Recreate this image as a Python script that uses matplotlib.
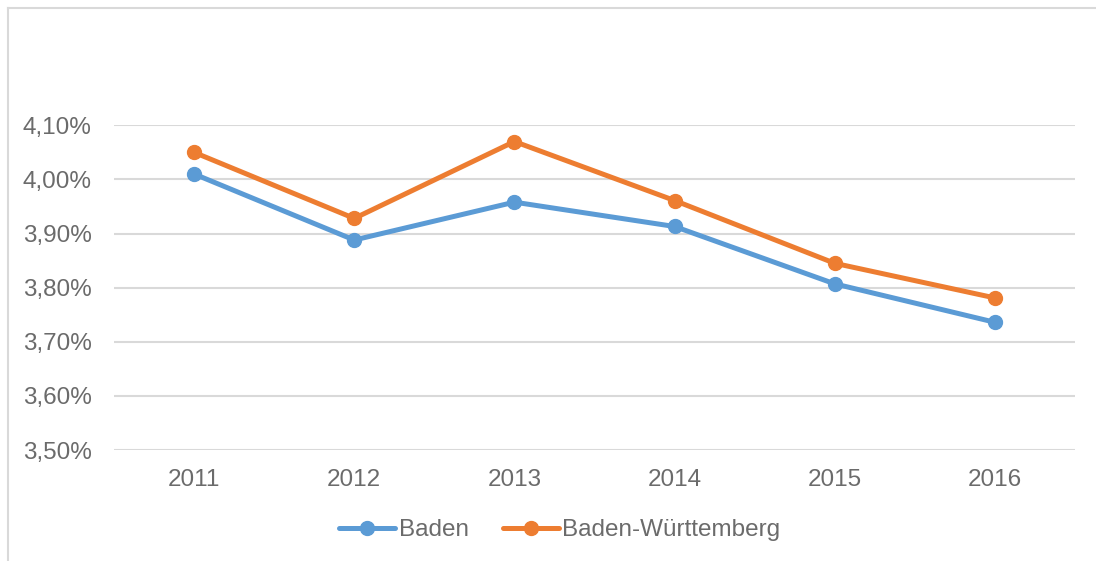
import matplotlib
matplotlib.use("Agg")
import matplotlib.pyplot as plt
from matplotlib.lines import Line2D
from matplotlib.ticker import FuncFormatter

# ---------------------------------------------------------------------------
# Data
# ---------------------------------------------------------------------------
years = ["2011", "2012", "2013", "2014", "2015", "2016"]
baden = [4.010, 3.888, 3.958, 3.913, 3.807, 3.736]
baden_wuerttemberg = [4.050, 3.928, 4.070, 3.961, 3.845, 3.781]
y_ticks = [3.5, 3.6, 3.7, 3.8, 3.9, 4.0, 4.1]

BLUE = "#5B9BD5"
ORANGE = "#ED7D31"
GRID = "#D9D9D9"
TEXT = "#6B6B6B"
FS = 17.5

plt.rcParams["font.family"] = ["Liberation Sans", "DejaVu Sans"]

W, H = 1096, 561
fig = plt.figure(figsize=(W / 100, H / 100), dpi=100, facecolor="white")

# axes placed in pixel coordinates of the reference
left, right, top, bottom = 114, 1075, 125.3, 450
ax = fig.add_axes([left / W, 1 - bottom / H, (right - left) / W, (bottom - top) / H])

x = list(range(len(years)))
ax.plot(x, baden, color=BLUE, lw=3.6, marker="o", ms=10, label="Baden",
        solid_capstyle="round", zorder=3)
ax.plot(x, baden_wuerttemberg, color=ORANGE, lw=3.6, marker="o", ms=10,
        label="Baden-Württemberg", solid_capstyle="round", zorder=3)

ax.set_xlim(-0.5, len(years) - 0.5)
ax.set_ylim(3.5, 4.1)
ax.set_yticks(y_ticks)
ax.yaxis.set_major_formatter(FuncFormatter(lambda v, _: f"{v:.2f}%".replace(".", ",")))
ax.set_xticks(x)
ax.set_xticklabels(years)

ax.grid(axis="y", color=GRID, lw=1.5, zorder=0)
ax.set_axisbelow(True)
for s in ax.spines.values():
    s.set_visible(False)
ax.tick_params(length=0, labelsize=FS, labelcolor=TEXT)
ax.tick_params(axis="y", pad=16)
ax.tick_params(axis="x", pad=14)
ax.patch.set_alpha(0)

# legend below the plot
fig.legend(loc="center", bbox_to_anchor=(560 / W, 1 - 530 / H), ncol=2,
           frameon=False, fontsize=FS, labelcolor=TEXT, handlelength=2.3,
           handletextpad=0.15, columnspacing=1.4)

# chart frame (only top and left edges fall inside the image)
fig.add_artist(Line2D([8 / W, 1], [1 - 8 / H, 1 - 8 / H], color=GRID, lw=1.5,
                      transform=fig.transFigure))
fig.add_artist(Line2D([8 / W, 8 / W], [0, 1 - 8 / H], color=GRID, lw=1.5,
                      transform=fig.transFigure))

fig.savefig("out.png", dpi=100, facecolor="white")
